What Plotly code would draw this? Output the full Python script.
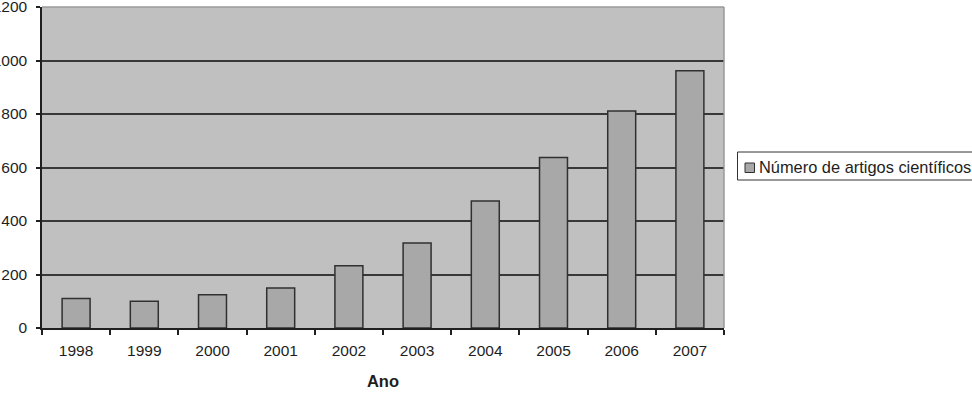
import plotly.graph_objects as go

anos = ["1998", "1999", "2000", "2001", "2002", "2003", "2004", "2005", "2006", "2007"]
artigos = [110, 100, 124, 150, 233, 318, 475, 637, 811, 962]
serie_nome = "Número de artigos científicos"
eixo_x_titulo = "Ano"
y_ticks = [0, 200, 400, 600, 800, 1000, 1200]

W, H = 972, 399
L, R, T, B = 42, 724, 7, 328  # plot area in pixels

def px_x(p):
    return (p - L) / (R - L)

def px_y(p):
    return (B - p) / (B - T)

FONT = "Liberation Sans, Arial, sans-serif"
TXT = "#1e1e1e"

fig = go.Figure()
fig.add_trace(go.Bar(
    x=anos, y=artigos, name=serie_nome,
    marker=dict(color="#a8a8a8", line=dict(color="#303030", width=1.5)),
    showlegend=False,
))

fig.update_layout(
    width=W, height=H,
    margin=dict(l=L, r=W - R, t=T, b=H - B, autoexpand=False),
    paper_bgcolor="white",
    plot_bgcolor="#c0c0c0",
    bargap=0.59,
    font=dict(family=FONT, size=16, color=TXT),
    xaxis=dict(
        type="category",
        showline=True, linecolor="#202020", linewidth=1.5,
        ticks="outside", tickson="boundaries", ticklen=5, tickcolor="#202020", tickwidth=1.5,
        showgrid=False,
        tickfont=dict(size=15.5, color=TXT),
        ticklabelstandoff=8,
        ticklabeloverflow="allow",
        title=dict(text="<b>" + eixo_x_titulo + "</b>", font=dict(size=16.5, color=TXT), standoff=17),
        automargin=False,
    ),
    yaxis=dict(
        range=[0, 1200], tickvals=y_ticks,
        showline=True, linecolor="#202020", linewidth=1.5,
        ticks="outside", ticklen=4, tickcolor="#202020", tickwidth=1.5,
        showgrid=True, gridcolor="#383838", gridwidth=1.5,
        zeroline=False,
        tickfont=dict(size=15.5, color=TXT),
        ticklabelstandoff=6,
        ticklabeloverflow="allow",
        automargin=False,
    ),
    shapes=[
        # top and right plot-area border (light gray)
        dict(type="line", xref="paper", yref="paper", x0=0, x1=1, y0=1, y1=1,
             line=dict(color="#9a9a9a", width=1.5), layer="above"),
        dict(type="line", xref="paper", yref="paper", x0=1, x1=1, y0=0, y1=1,
             line=dict(color="#9a9a9a", width=1.5), layer="above"),
        # legend box
        dict(type="rect", xref="paper", yref="paper",
             x0=px_x(737.5), x1=px_x(1000), y0=px_y(180), y1=px_y(152),
             line=dict(color="#333333", width=1), fillcolor="white", layer="above"),
        # legend swatch
        dict(type="rect", xref="paper", yref="paper",
             x0=px_x(745), x1=px_x(754.5), y0=px_y(172.5), y1=px_y(163),
             line=dict(color="#303030", width=1), fillcolor="#a8a8a8", layer="above"),
    ],
    annotations=[
        dict(text=serie_nome, xref="paper", yref="paper", x=px_x(757), y=px_y(166.5),
             xanchor="left", yanchor="middle", showarrow=False,
             font=dict(size=16.4, color=TXT, family=FONT)),
    ],
)

fig.write_html("out.html")
